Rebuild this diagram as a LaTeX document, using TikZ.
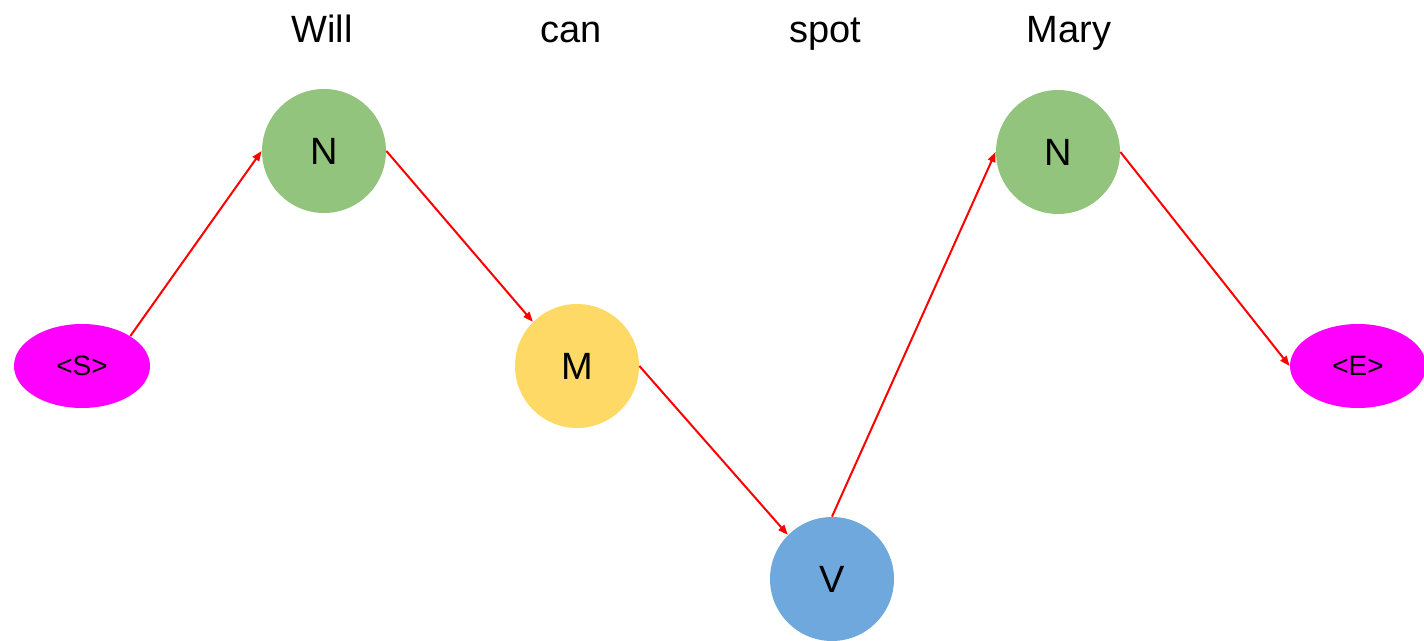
\documentclass[tikz,border=0pt]{standalone}
\usepackage{fontspec}
\setmainfont{Liberation Sans}
\usetikzlibrary{shapes.geometric, arrows.meta, positioning}

\definecolor{tagN}{HTML}{93C47D}
\definecolor{tagM}{HTML}{FFD966}
\definecolor{tagV}{HTML}{6FA8DC}
\definecolor{tagSE}{HTML}{FF00FF}

\begin{document}
\begin{tikzpicture}[
    x=0.5pt, y=-0.5pt,
    >={Triangle[length=5pt, width=3.8pt]},
    % --- estilos ---
    tag/.style   = {circle, minimum size=62pt, inner sep=0pt,
                    font=\fontsize{19}{21}\selectfont},
    bound/.style = {ellipse, fill=tagSE, minimum width=68pt, minimum height=42pt,
                    inner sep=0pt, font=\fontsize{14}{16}\selectfont},
    word/.style  = {anchor=base, font=\fontsize{19}{22}\selectfont},
    arr/.style   = {->, line width=1pt, draw=red}
]
\useasboundingbox (0,0) rectangle (1424,641);

% ===================== PALABRAS =====================
\node[word] (wWill) at (322,43)  {Will};
\node[word] (wCan)  at (571,43)  {can};
\node[word] (wSpot) at (825,43)  {spot};
\node[word] (wMary) at (1069,43) {Mary};

% ===================== ETIQUETAS =====================
\node[bound]            (start) at (82,366)   {<S>};
\node[tag, fill=tagN]   (n1)    at (324,151)  {N};
\node[tag, fill=tagM]   (m)     at (577,366)  {M};
\node[tag, fill=tagV]   (v)     at (832,579)  {V};
\node[tag, fill=tagN]   (n2)    at (1058,152) {N};
\node[bound]            (stop)  at (1358,366) {<E>};

% ===================== FLECHAS =====================
\draw[arr] (start.north east) -- (n1.west);
\draw[arr] (n1.east)          -- (m.north west);
\draw[arr] (m.east)           -- (v.north west);
\draw[arr] (v.north)          -- (n2.west);
\draw[arr] (n2.east)          -- (stop.west);

\end{tikzpicture}
\end{document}
